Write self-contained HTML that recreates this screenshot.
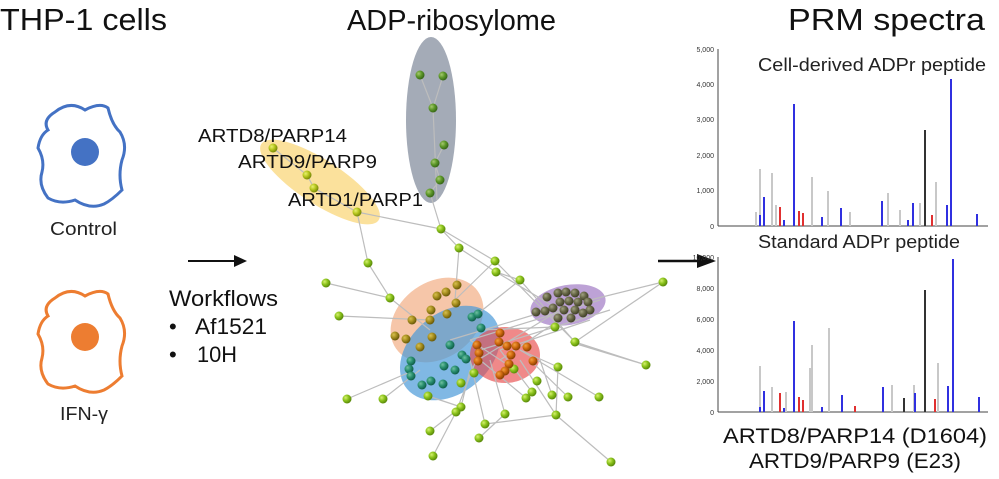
<!DOCTYPE html>
<html><head><meta charset="utf-8"><style>
body{margin:0;background:#fff;}
svg{display:block;font-family:"Liberation Sans",Arial,sans-serif;}
</style></head><body>
<svg width="999" height="479" viewBox="0 0 999 479" xmlns="http://www.w3.org/2000/svg">
<defs>
<radialGradient id="g" cx="35%" cy="35%" r="65%"><stop offset="0" stop-color="#d6f070"/><stop offset="0.5" stop-color="#8cc41c"/><stop offset="1" stop-color="#5a8a0a"/></radialGradient>
<radialGradient id="y" cx="35%" cy="35%" r="65%"><stop offset="0" stop-color="#e8f070"/><stop offset="0.5" stop-color="#b8c820"/><stop offset="1" stop-color="#7a8a08"/></radialGradient>
<radialGradient id="dg" cx="35%" cy="35%" r="65%"><stop offset="0" stop-color="#a6c870"/><stop offset="0.5" stop-color="#5f9a2a"/><stop offset="1" stop-color="#386818"/></radialGradient>
<radialGradient id="ol" cx="35%" cy="35%" r="65%"><stop offset="0" stop-color="#d8c050"/><stop offset="0.5" stop-color="#a89020"/><stop offset="1" stop-color="#6a5a08"/></radialGradient>
<radialGradient id="tl" cx="35%" cy="35%" r="65%"><stop offset="0" stop-color="#70c0a0"/><stop offset="0.5" stop-color="#2a9070"/><stop offset="1" stop-color="#10604a"/></radialGradient>
<radialGradient id="or" cx="35%" cy="35%" r="65%"><stop offset="0" stop-color="#f0a040"/><stop offset="0.5" stop-color="#d06a10"/><stop offset="1" stop-color="#8a4000"/></radialGradient>
<radialGradient id="gy" cx="35%" cy="35%" r="65%"><stop offset="0" stop-color="#a0a080"/><stop offset="0.5" stop-color="#6a6a4a"/><stop offset="1" stop-color="#404028"/></radialGradient>
</defs>

<!-- titles -->
<text x="0" y="30" font-size="31" fill="#111" textLength="167" lengthAdjust="spacingAndGlyphs">THP-1 cells</text>
<text x="347" y="30" font-size="29" fill="#111" textLength="209" lengthAdjust="spacingAndGlyphs">ADP-ribosylome</text>
<text x="788" y="30" font-size="31" fill="#111" textLength="197" lengthAdjust="spacingAndGlyphs">PRM spectra</text>

<!-- cells -->
<path d="M55,112 Q70,100 85,110 Q100,102 108,108 Q112,125 120,132 Q128,145 122,160 Q118,175 122,190 Q112,200 104,204 Q90,210 75,200 Q60,205 48,198 Q38,185 42,172 Q45,160 38,148 Q40,135 48,130 Q42,120 55,112 Z" fill="none" stroke="#4472c4" stroke-width="3"/>
<circle cx="85" cy="152" r="14" fill="#4472c4"/>
<text x="50" y="235" font-size="18" fill="#222" textLength="67" lengthAdjust="spacingAndGlyphs">Control</text>
<path d="M55,298 Q70,286 85,296 Q100,288 108,294 Q112,311 120,318 Q128,331 122,346 Q118,361 122,376 Q112,386 104,390 Q90,396 75,386 Q60,391 48,384 Q38,371 42,358 Q45,346 38,334 Q40,321 48,316 Q42,306 55,298 Z" fill="none" stroke="#ed7d31" stroke-width="3"/>
<circle cx="85" cy="337" r="14" fill="#ed7d31"/>
<text x="60" y="420" font-size="18" fill="#222" textLength="48" lengthAdjust="spacingAndGlyphs">IFN-γ</text>

<!-- workflows -->
<line x1="188" y1="261" x2="236" y2="261" stroke="#111" stroke-width="2"/>
<polygon points="234,255 247,261 234,267" fill="#111"/>
<text x="169" y="306" font-size="22" fill="#111" textLength="109" lengthAdjust="spacingAndGlyphs">Workflows</text>
<text x="169" y="334" font-size="22" fill="#111">•</text><text x="195" y="334" font-size="22" fill="#111" textLength="72" lengthAdjust="spacingAndGlyphs">Af1521</text>
<text x="169" y="362" font-size="22" fill="#111">•</text><text x="197" y="362" font-size="22" fill="#111" textLength="40" lengthAdjust="spacingAndGlyphs">10H</text>

<!-- arrow to spectra -->
<line x1="658" y1="261" x2="700" y2="261" stroke="#111" stroke-width="2.5"/>
<polygon points="697,254 716,261 697,268" fill="#111"/>

<!-- network ellipses -->
<ellipse cx="320" cy="182" rx="70" ry="22" transform="rotate(33 320 182)" fill="#f8c94a" opacity="0.55"/>
<ellipse cx="431" cy="120" rx="25" ry="83" fill="#7d8799" opacity="0.7"/>
<ellipse cx="437" cy="320" rx="50" ry="38" transform="rotate(-35 437 320)" fill="#f0a070" opacity="0.6"/>
<ellipse cx="450" cy="353" rx="56" ry="40" transform="rotate(-40 450 353)" fill="#4a9ad8" opacity="0.7"/>
<ellipse cx="505" cy="355" rx="35" ry="28" fill="#e84a4a" opacity="0.65"/>
<ellipse cx="568" cy="305" rx="38" ry="20" transform="rotate(-10 568 305)" fill="#9a70c0" opacity="0.65"/>

<!-- edges -->
<g stroke="#bdbdbd" stroke-width="1.2" fill="none">
<path d="M273,148 L307,175 L314,188 L357,212 L441,229 M357,212 L368,263 M420,75 L433,108 L443,76 M433,108 L437,200 M444,145 L435,163 L440,180 L430,193 L441,229 L459,248 L496,272 M441,229 L495,261 L575,342 M459,248 L455,300 M495,261 L455,300 M496,272 L520,280 M496,272 L560,310"/>
<path d="M368,263 L390,298 L430,330 M326,283 L390,298 M339,316 L430,320 M520,280 L470,320 M555,327 L480,330 M663,282 L590,300 M663,282 L575,342 M514,369 L470,340 M558,367 L520,350 M646,365 L570,342 M646,365 L575,342"/>
<path d="M347,399 L410,372 M383,399 L420,370 M532,392 L500,350 M461,407 L470,370 M526,398 L480,360 M428,396 L461,407 M568,397 L530,360 M552,395 L540,360 M599,397 L520,350 M485,424 L470,360 M456,412 L480,350 M505,414 L490,360 M430,431 L461,407 M479,438 L505,414 M433,456 L456,412 M611,462 L556,415 M556,415 L520,360 M556,415 L485,424 M478,360 L560,310 M470,340 L600,300 M480,350 L610,310 M500,350 L590,320 M520,280 L575,342 M500,360 L574,310 M450,340 L550,310 M556,415 L558,367"/>
</g>

<!-- nodes -->
<g>
<circle cx="273" cy="148" r="4.5" fill="url(#y)"/><circle cx="307" cy="175" r="4.5" fill="url(#y)"/><circle cx="314" cy="188" r="4.5" fill="url(#y)"/><circle cx="357" cy="212" r="4.5" fill="url(#y)"/>
<circle cx="420" cy="75" r="4.5" fill="url(#dg)"/><circle cx="443" cy="76" r="4.5" fill="url(#dg)"/><circle cx="433" cy="108" r="4.5" fill="url(#dg)"/><circle cx="444" cy="145" r="4.5" fill="url(#dg)"/><circle cx="435" cy="163" r="4.5" fill="url(#dg)"/><circle cx="440" cy="180" r="4.5" fill="url(#dg)"/><circle cx="430" cy="193" r="4.5" fill="url(#dg)"/>
</g>
<g fill="url(#g)">
<circle cx="441" cy="229" r="4.5"/><circle cx="459" cy="248" r="4.5"/><circle cx="495" cy="261" r="4.5"/><circle cx="496" cy="272" r="4.5"/><circle cx="368" cy="263" r="4.5"/><circle cx="390" cy="298" r="4.5"/><circle cx="326" cy="283" r="4.5"/><circle cx="339" cy="316" r="4.5"/><circle cx="520" cy="280" r="4.5"/><circle cx="555" cy="327" r="4.5"/><circle cx="575" cy="342" r="4.5"/><circle cx="663" cy="282" r="4.5"/><circle cx="514" cy="369" r="4.5"/><circle cx="558" cy="367" r="4.5"/><circle cx="646" cy="365" r="4.5"/><circle cx="347" cy="399" r="4.5"/><circle cx="383" cy="399" r="4.5"/><circle cx="532" cy="392" r="4.5"/><circle cx="461" cy="407" r="4.5"/><circle cx="526" cy="398" r="4.5"/><circle cx="428" cy="396" r="4.5"/><circle cx="568" cy="397" r="4.5"/><circle cx="552" cy="395" r="4.5"/><circle cx="599" cy="397" r="4.5"/><circle cx="485" cy="424" r="4.5"/><circle cx="456" cy="412" r="4.5"/><circle cx="505" cy="414" r="4.5"/><circle cx="430" cy="431" r="4.5"/><circle cx="479" cy="438" r="4.5"/><circle cx="433" cy="456" r="4.5"/><circle cx="611" cy="462" r="4.5"/><circle cx="556" cy="415" r="4.5"/><circle cx="474" cy="373" r="4.5"/><circle cx="461" cy="383" r="4.5"/><circle cx="537" cy="381" r="4.5"/>
</g>
<g fill="url(#ol)">
<circle cx="457" cy="285" r="4.5"/><circle cx="446" cy="292" r="4.5"/><circle cx="437" cy="296" r="4.5"/><circle cx="456" cy="303" r="4.5"/><circle cx="431" cy="310" r="4.5"/><circle cx="447" cy="314" r="4.5"/><circle cx="412" cy="320" r="4.5"/><circle cx="430" cy="320" r="4.5"/><circle cx="395" cy="336" r="4.5"/><circle cx="406" cy="339" r="4.5"/><circle cx="432" cy="337" r="4.5"/><circle cx="420" cy="347" r="4.5"/>
</g>
<g fill="url(#tl)">
<circle cx="472" cy="317" r="4.5"/><circle cx="478" cy="314" r="4.5"/><circle cx="481" cy="328" r="4.5"/><circle cx="450" cy="345" r="4.5"/><circle cx="462" cy="355" r="4.5"/><circle cx="466" cy="359" r="4.5"/><circle cx="411" cy="361" r="4.5"/><circle cx="409" cy="369" r="4.5"/><circle cx="411" cy="376" r="4.5"/><circle cx="444" cy="366" r="4.5"/><circle cx="455" cy="370" r="4.5"/><circle cx="422" cy="385" r="4.5"/><circle cx="431" cy="381" r="4.5"/><circle cx="443" cy="384" r="4.5"/>
</g>
<g fill="url(#or)">
<circle cx="500" cy="333" r="4.5"/><circle cx="499" cy="342" r="4.5"/><circle cx="507" cy="346" r="4.5"/><circle cx="516" cy="346" r="4.5"/><circle cx="527" cy="347" r="4.5"/><circle cx="511" cy="355" r="4.5"/><circle cx="477" cy="345" r="4.5"/><circle cx="479" cy="353" r="4.5"/><circle cx="478" cy="361" r="4.5"/><circle cx="509" cy="364" r="4.5"/><circle cx="533" cy="361" r="4.5"/><circle cx="505" cy="371" r="4.5"/><circle cx="500" cy="375" r="4.5"/>
</g>
<g fill="url(#gy)">
<circle cx="547" cy="297" r="4.5"/><circle cx="558" cy="293" r="4.5"/><circle cx="566" cy="292" r="4.5"/><circle cx="575" cy="293" r="4.5"/><circle cx="584" cy="296" r="4.5"/><circle cx="560" cy="302" r="4.5"/><circle cx="569" cy="301" r="4.5"/><circle cx="578" cy="302" r="4.5"/><circle cx="588" cy="302" r="4.5"/><circle cx="553" cy="308" r="4.5"/><circle cx="564" cy="310" r="4.5"/><circle cx="575" cy="310" r="4.5"/><circle cx="590" cy="310" r="4.5"/><circle cx="536" cy="312" r="4.5"/><circle cx="545" cy="311" r="4.5"/><circle cx="558" cy="318" r="4.5"/><circle cx="571" cy="318" r="4.5"/><circle cx="583" cy="313" r="4.5"/>
</g>
<text x="198" y="142" font-size="18" fill="#111" textLength="149" lengthAdjust="spacingAndGlyphs">ARTD8/PARP14</text>
<text x="238" y="168" font-size="18" fill="#111" textLength="139" lengthAdjust="spacingAndGlyphs">ARTD9/PARP9</text>
<text x="288" y="206" font-size="18" fill="#111" textLength="135" lengthAdjust="spacingAndGlyphs">ARTD1/PARP1</text>

<!-- chart axes labels -->
<g font-size="7" fill="#333" text-anchor="end">
<text x="714" y="52">5,000</text><text x="714" y="87">4,000</text><text x="714" y="122">3,000</text><text x="714" y="158">2,000</text><text x="714" y="193">1,000</text><text x="714" y="229">0</text>
<text x="714" y="260">10,000</text><text x="714" y="291">8,000</text><text x="714" y="322">6,000</text><text x="714" y="353">4,000</text><text x="714" y="384">2,000</text><text x="714" y="415">0</text>
</g>
<g stroke="#444" stroke-width="1">
<line x1="718" y1="49" x2="718" y2="226"/><line x1="718" y1="226" x2="988" y2="226"/>
<line x1="718" y1="257" x2="718" y2="412"/><line x1="718" y1="412" x2="988" y2="412"/>
</g>
<text x="758" y="71" font-size="18" fill="#222" textLength="228" lengthAdjust="spacingAndGlyphs">Cell-derived ADPr peptide</text>
<text x="758" y="248" font-size="18" fill="#222" textLength="202" lengthAdjust="spacingAndGlyphs">Standard ADPr peptide</text>
<g stroke-width="2">
<g stroke="#c8c8c8">
<line x1="760" y1="226" x2="760" y2="169"/><line x1="772" y1="226" x2="772" y2="173"/><line x1="812" y1="226" x2="812" y2="177"/><line x1="828" y1="226" x2="828" y2="191"/><line x1="888" y1="226" x2="888" y2="193"/><line x1="936" y1="226" x2="936" y2="182"/><line x1="776" y1="226" x2="776" y2="205"/><line x1="850" y1="226" x2="850" y2="212"/><line x1="900" y1="226" x2="900" y2="210"/><line x1="920" y1="226" x2="920" y2="203"/><line x1="756" y1="226" x2="756" y2="212"/>
<line x1="760" y1="412" x2="760" y2="366"/><line x1="812" y1="412" x2="812" y2="345"/><line x1="829" y1="412" x2="829" y2="328"/><line x1="938" y1="412" x2="938" y2="363"/><line x1="772" y1="412" x2="772" y2="387"/><line x1="786" y1="412" x2="786" y2="392"/><line x1="810" y1="412" x2="810" y2="368"/><line x1="892" y1="412" x2="892" y2="385"/><line x1="914" y1="412" x2="914" y2="385"/>
</g>
<g stroke="#3030e0">
<line x1="760" y1="226" x2="760" y2="215"/><line x1="764" y1="226" x2="764" y2="197"/><line x1="794" y1="226" x2="794" y2="104"/><line x1="841" y1="226" x2="841" y2="208"/><line x1="882" y1="226" x2="882" y2="201"/><line x1="913" y1="226" x2="913" y2="203"/><line x1="947" y1="226" x2="947" y2="205"/><line x1="951" y1="226" x2="951" y2="79"/><line x1="977" y1="226" x2="977" y2="214"/><line x1="784" y1="226" x2="784" y2="220"/><line x1="822" y1="226" x2="822" y2="217"/><line x1="908" y1="226" x2="908" y2="220"/>
<line x1="760" y1="412" x2="760" y2="407"/><line x1="764" y1="412" x2="764" y2="391"/><line x1="794" y1="412" x2="794" y2="321"/><line x1="842" y1="412" x2="842" y2="395"/><line x1="883" y1="412" x2="883" y2="387"/><line x1="915" y1="412" x2="915" y2="393"/><line x1="948" y1="412" x2="948" y2="386"/><line x1="953" y1="412" x2="953" y2="259"/><line x1="979" y1="412" x2="979" y2="397"/><line x1="784" y1="412" x2="784" y2="408"/><line x1="822" y1="412" x2="822" y2="407"/>
</g>
<g stroke="#e03030">
<line x1="780" y1="226" x2="780" y2="207"/><line x1="799" y1="226" x2="799" y2="211"/><line x1="803" y1="226" x2="803" y2="213"/><line x1="932" y1="226" x2="932" y2="215"/>
<line x1="780" y1="412" x2="780" y2="393"/><line x1="799" y1="412" x2="799" y2="397"/><line x1="803" y1="412" x2="803" y2="400"/><line x1="935" y1="412" x2="935" y2="399"/><line x1="855" y1="412" x2="855" y2="406"/>
</g>
<g stroke="#333">
<line x1="925" y1="226" x2="925" y2="130"/><line x1="925" y1="412" x2="925" y2="290"/><line x1="904" y1="412" x2="904" y2="398"/>
</g>
</g>
<text x="855" y="443" font-size="21" fill="#111" text-anchor="middle" textLength="264" lengthAdjust="spacingAndGlyphs">ARTD8/PARP14 (D1604)</text>
<text x="855" y="468" font-size="21" fill="#111" text-anchor="middle" textLength="212" lengthAdjust="spacingAndGlyphs">ARTD9/PARP9 (E23)</text>
</svg>
</body></html>
